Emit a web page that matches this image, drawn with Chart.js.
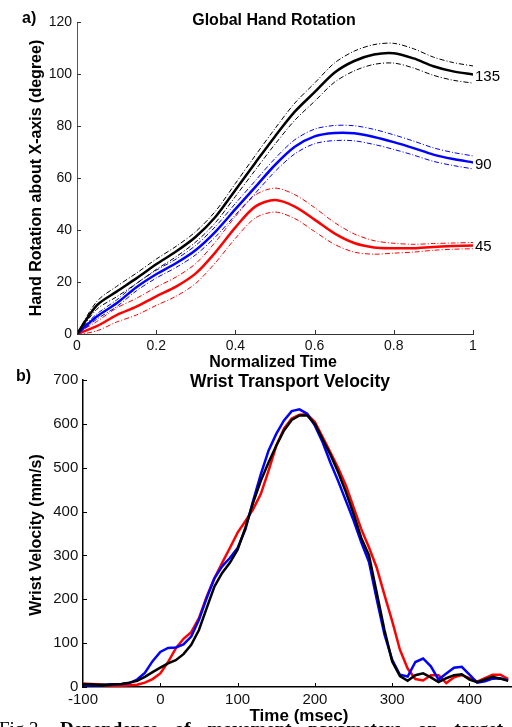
<!DOCTYPE html>
<html>
<head>
<meta charset="utf-8">
<script src="https://cdn.jsdelivr.net/npm/chart.js@4.4.1/dist/chart.umd.min.js"></script>
<style>
  body { margin: 0; background: #fff; }
  #page { position: relative; width: 512px; height: 727px; overflow: hidden;
          font-family: 'Liberation Sans', Arial, sans-serif; color: #000; }
  canvas { position: absolute; left: 0; }
  .t { position: absolute; white-space: nowrap; line-height: 16px; }
  .b { font-weight: bold; }
  .c { transform: translateX(-50%); }
  .v { transform: translate(-50%, -50%) rotate(-90deg); }
  #caption { position: absolute; left: -1px; top: 719px; width: 504px; white-space: nowrap;
             font-family: 'Liberation Serif', 'Times New Roman', serif; font-size: 19px;
             line-height: 19px; text-align: justify; text-align-last: justify; }
</style>
</head>
<body>
<div id="page">
  <canvas id="rotChart" width="512" height="365" style="top:0"></canvas>
  <canvas id="velChart" width="512" height="362" style="top:365px"></canvas>

  <div class="t b" style="left:22px; top:10px; font-size:16px">a)</div>
  <div class="t b c" style="left:274px; top:12px; font-size:16px">Global Hand Rotation</div>
  <div class="t b v" style="left:36px; top:178px; font-size:16px">Hand Rotation about X-axis (degree)</div>
  <div class="t" style="left:475px; top:68px; font-size:15px">135</div>
  <div class="t" style="left:475px; top:156px; font-size:15px">90</div>
  <div class="t" style="left:475px; top:238px; font-size:15px">45</div>

  <div class="t b" style="left:16px; top:368px; font-size:16px">b)</div>
  <div class="t b v" style="left:36px; top:535px; font-size:16px">Wrist Velocity (mm/s)</div>

  <div id="caption">Fig.3. <b>Dependence of movement parameters on target</b></div>

  <div class="t b c" style="left:273px; top:354px; font-size:16px">Normalized Time</div>
  <div class="t b c" style="left:290px; top:373px; font-size:17.5px">Wrist Transport Velocity</div>
  <div class="t b c" style="left:299px; top:708px; font-size:17px">Time (msec)</div>
</div>

<script>
// Panel a: hand rotation per target (135, 90, 45), mean and SD every 0.05 of normalized time
const normTime = [0, 0.05, 0.1, 0.15, 0.2, 0.25, 0.3, 0.35, 0.4, 0.45, 0.5,
                  0.55, 0.6, 0.65, 0.7, 0.75, 0.8, 0.85, 0.9, 0.95, 1];
const rot135 = [0, 11, 16.3, 21.4, 26.8, 31.7, 37.4, 45.1, 55.4, 65.8, 76,
                85.5, 93, 100.5, 105, 107.5, 108, 106, 103, 101, 99.8];
const sd135  = [0.3, 1.5, 2, 2, 2, 2, 2, 2.2, 2.5, 2.8, 3,
                3.3, 3.5, 3.7, 3.8, 3.8, 3.8, 3.7, 3.5, 3.4, 3.3];
const rot90  = [0, 6.7, 11.8, 18, 23, 27.2, 32.3, 39.4, 48, 56.5, 65,
                72, 76, 77.3, 77.2, 75.8, 73.8, 71.5, 69, 67.3, 66];
const sd90   = [0.3, 1, 1.3, 1.4, 1.5, 1.6, 1.8, 2, 2.2, 2.4, 2.5,
                2.7, 2.8, 2.9, 2.9, 2.9, 2.8, 2.7, 2.6, 2.5, 2.5];
const rot45  = [0, 3, 7.3, 10.5, 14.5, 18.2, 23.3, 31.5, 41, 49, 51.5,
                49, 44, 38.7, 35, 33.3, 33, 33, 33.5, 33.8, 34];
const sd45   = [0.3, 1.8, 2.7, 3.2, 3.5, 3.7, 3.8, 4, 4.2, 4.4, 4.6,
                4.6, 4.6, 4.2, 3.5, 2.6, 1.9, 1.5, 1.3, 1.2, 1.2];
const rotXTicks = [0, 0.2, 0.4, 0.6, 0.8, 1];
const rotYTicks = [0, 20, 40, 60, 80, 100, 120];

// Panel b: wrist transport velocity every 10 ms
const timeMs = [-100, -90, -80, -70, -60, -50, -40, -30, -20, -10, 0, 10, 20, 30, 40, 50,
                60, 70, 80, 90, 100, 110, 120, 130, 140, 150, 160, 170, 180, 190, 200,
                210, 220, 230, 240, 250, 260, 270, 280, 290, 300, 310, 320, 330, 340, 350,
                360, 370, 380, 390, 400, 410, 420, 430, 440, 450];
const vel135 = [6, 6, 5, 5, 6, 7, 10, 14, 23, 34, 44, 54, 61, 75, 96, 130,
                180, 229, 260, 283, 313, 363, 420, 470, 512, 550, 585, 609, 619, 619, 600,
                565, 530, 490, 445, 395, 340, 300, 215, 130, 58, 25, 14, 27, 31, 22,
                11, 20, 27, 29, 17, 11, 17, 23, 19, 14];
const vel90  = [4, 4, 4, 5, 6, 7, 9, 17, 32, 59, 80, 89, 90, 97, 115, 153,
                203, 248, 275, 294, 317, 359, 424, 485, 539, 577, 608, 629, 633, 623, 596,
                558, 512, 470, 425, 380, 330, 285, 200, 120, 62, 28, 24, 57, 65, 47,
                17, 31, 44, 46, 28, 10, 13, 19, 20, 15];
const vel45  = [8, 7, 6, 4, 3, 3, 4, 5, 10, 18, 31, 57, 88, 110, 125, 157,
                206, 248, 283, 317, 352, 378, 405, 440, 493, 550, 589, 612, 621, 622, 604,
                570, 535, 500, 460, 410, 360, 318, 272, 210, 150, 85, 42, 18, 15, 27,
                27, 9, 22, 27, 20, 12, 20, 28, 28, 18];
const velXTicks = [-100, 0, 100, 200, 300, 400];
const velYTicks = [0, 100, 200, 300, 400, 500, 600, 700];

const pts = (xs, ys) => xs.map((x, i) => ({ x: x, y: ys[i] }));
const band = (xs, m, s, sign) => xs.map((x, i) => ({ x: x, y: m[i] + sign * s[i] }));

// matlab style ticks pointing into the plot
const inwardTicks = {
  id: 'inwardTicks',
  afterDraw(chart, args, opts) {
    const { ctx, chartArea: a, scales: { x, y } } = chart;
    ctx.save();
    ctx.strokeStyle = opts.color || '#000';
    ctx.lineWidth = 1;
    ctx.beginPath();
    x.ticks.forEach(t => {
      const px = Math.round(x.getPixelForValue(t.value)) + 0.5;
      ctx.moveTo(px, a.bottom);
      ctx.lineTo(px, a.bottom - 4);
    });
    y.ticks.forEach(t => {
      const py = Math.round(y.getPixelForValue(t.value)) + 0.5;
      ctx.moveTo(a.left, py);
      ctx.lineTo(a.left + 4, py);
    });
    ctx.stroke();
    ctx.restore();
  }
};

function axis(min, max, ticks, size, fontSize, pad, color, width, isY) {
  return {
    type: 'linear', min: min, max: max,
    afterBuildTicks: s => { s.ticks = ticks.map(v => ({ value: v })); },
    afterFit: s => { if (isY) s.width = size; else s.height = size; },
    grid: { display: false, drawTicks: false, tickLength: 0 },
    border: { display: true, color: color, width: width },
    ticks: { autoSkip: false, maxRotation: 0, padding: pad, color: '#111',
             callback: v => String(v),
             font: { family: "'Liberation Sans', Arial, sans-serif", size: fontSize } }
  };
}

function meanLine(xs, ys, color) {
  return { data: pts(xs, ys), borderColor: color, borderWidth: 2.5, pointRadius: 0,
           tension: 0.3, fill: false };
}
function sdLine(xs, m, s, sign, color) {
  return { data: band(xs, m, s, sign), borderColor: color, borderWidth: 1, pointRadius: 0,
           borderDash: [5, 2, 1, 2], tension: 0.3, fill: false };
}

new Chart(document.getElementById('rotChart'), {
  type: 'line',
  data: {
    datasets: [
      meanLine(normTime, rot135, '#000'),
      sdLine(normTime, rot135, sd135, 1, '#000'),
      sdLine(normTime, rot135, sd135, -1, '#000'),
      meanLine(normTime, rot90, '#0000ff'),
      sdLine(normTime, rot90, sd90, 1, '#0000ff'),
      sdLine(normTime, rot90, sd90, -1, '#0000ff'),
      meanLine(normTime, rot45, '#ff0000'),
      sdLine(normTime, rot45, sd45, 1, '#ff0000'),
      sdLine(normTime, rot45, sd45, -1, '#ff0000')
    ]
  },
  options: {
    responsive: false, animation: false,
    layout: { padding: { left: 0, top: 22, right: 39, bottom: 0 } },
    scales: {
      x: axis(0, 1, rotXTicks, 31, 14, 3.5, '#333', 1, false),
      y: axis(0, 120, rotYTicks, 77, 14, 5, '#555', 1, true)
    },
    plugins: { legend: { display: false }, tooltip: { enabled: false },
               inwardTicks: { color: '#333' } }
  },
  plugins: [inwardTicks]
});

new Chart(document.getElementById('velChart'), {
  type: 'line',
  data: {
    datasets: [
      { data: pts(timeMs, vel135), borderColor: '#000', borderWidth: 2.5, pointRadius: 0, tension: 0 },
      { data: pts(timeMs, vel90), borderColor: '#0000ff', borderWidth: 2.5, pointRadius: 0, tension: 0 },
      { data: pts(timeMs, vel45), borderColor: '#ff0000', borderWidth: 2.5, pointRadius: 0, tension: 0 }
    ]
  },
  options: {
    responsive: false, animation: false,
    layout: { padding: { left: 0, top: 15, right: 0, bottom: 0 } },
    scales: {
      x: axis(-100, 455, velXTicks, 40, 15, 4.3, '#000', 1.5, false),
      y: axis(0, 700, velYTicks, 83, 15, 4.7, '#000', 1.5, true)
    },
    plugins: { legend: { display: false }, tooltip: { enabled: false },
               inwardTicks: { color: '#000' } }
  },
  plugins: [inwardTicks]
});
</script>
</body>
</html>
